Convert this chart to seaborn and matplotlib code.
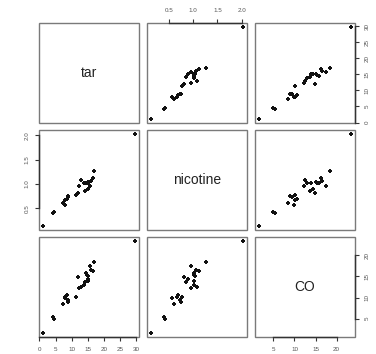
import matplotlib
matplotlib.use("Agg")
import matplotlib.pyplot as plt
import seaborn as sns
import pandas as pd
from matplotlib.patches import Rectangle

sns.set_style("white")
plt.rcParams['font.family'] = ['Liberation Sans', 'DejaVu Sans']

tar = [14.1, 16.0, 29.8, 8.0, 4.1, 15.0, 8.8, 12.4, 16.6, 14.9, 13.7, 15.1, 7.8,
       11.4, 9.0, 1.0, 17.0, 12.8, 15.8, 4.5, 14.5, 7.3, 8.6, 15.2, 12.0]
nicotine = [0.86, 1.06, 2.03, 0.67, 0.40, 1.04, 0.76, 0.95, 1.12, 1.02, 1.01, 0.90, 0.57,
            0.78, 0.74, 0.13, 1.26, 1.08, 0.96, 0.42, 1.01, 0.61, 0.69, 1.02, 0.82]
co = [13.6, 16.6, 23.5, 10.2, 5.4, 15.0, 9.0, 12.3, 16.3, 15.4, 13.0, 14.4, 10.0,
      10.2, 9.5, 1.5, 18.5, 12.6, 17.5, 4.9, 15.9, 8.5, 10.6, 13.9, 14.9]

names = ["tar", "nicotine", "CO"]
ticks = {"tar": [0, 5, 10, 15, 20, 25, 30],
         "nicotine": [0.5, 1.0, 1.5, 2.0],
         "CO": [5, 10, 15, 20]}
df = pd.DataFrame({"tar": tar, "nicotine": nicotine, "CO": co})

W, H = 376, 354
fig = plt.figure(figsize=(W / 100, H / 100), dpi=100)
lefts = [39, 147, 255]
tops = [23, 130, 237]
size = 100

def lims(v):
    lo, hi = min(v), max(v)
    p = (hi - lo) * 0.04
    return lo - p, hi + p

frame_col = "#7a7a7a"
axis_col = "#333333"
lab_col = "#555555"

for i, yv in enumerate(names):
    for j, xv in enumerate(names):
        ax = fig.add_axes([lefts[j] / W, (H - tops[i] - size) / H, size / W, size / H])
        ax.set_xlim(*lims(df[xv]))
        ax.set_ylim(*lims(df[yv]))
        for s in ax.spines.values():
            s.set_visible(False)
        ax.add_patch(Rectangle((0, 0), 1, 1, transform=ax.transAxes, fill=False,
                               edgecolor=frame_col, lw=1.0, clip_on=False, zorder=3))
        ax.set_xticks([])
        ax.set_yticks([])
        if i == j:
            ax.text(0.5, 0.5, xv, transform=ax.transAxes, ha="center", va="center",
                    fontsize=10, color="#222222")
        else:
            sns.scatterplot(data=df, x=xv, y=yv, ax=ax, marker="P", s=9,
                            color="#111111", linewidth=0, legend=False)
        ax.set_xlabel("")
        ax.set_ylabel("")
        # outer axes like R pairs
        side_x = None
        if i == 0 and j == 1:
            side_x = "top"
        if i == 2 and j in (0, 2):
            side_x = "bottom"
        side_y = None
        if j == 2 and i in (0, 2):
            side_y = "right"
        if j == 0 and i == 1:
            side_y = "left"
        if side_x:
            t = ticks[xv]
            ax.set_xticks(t)
            ax.set_xticklabels([f"{v:g}" if xv != "nicotine" else f"{v:.1f}" for v in t])
            ax.xaxis.set_ticks_position(side_x)
            ax.xaxis.set_label_position(side_x)
            ax.tick_params(axis="x", length=3, width=0.8, color=axis_col,
                           labelsize=4.5, labelcolor=lab_col, pad=4, direction="out")
            sp = ax.spines[side_x]
            sp.set_visible(True)
            sp.set_bounds(t[0], t[-1])
            sp.set_color(axis_col)
            sp.set_linewidth(1.0)
            sp.set_zorder(4)
        if side_y:
            t = ticks[yv]
            ax.set_yticks(t)
            ax.set_yticklabels([f"{v:g}" if yv != "nicotine" else f"{v:.1f}" for v in t],
                               rotation=90, va="center")
            ax.yaxis.set_ticks_position(side_y)
            ax.tick_params(axis="y", length=3, width=0.8, color=axis_col,
                           labelsize=4.5, labelcolor=lab_col, pad=4, direction="out")
            sp = ax.spines[side_y]
            sp.set_visible(True)
            sp.set_bounds(t[0], t[-1])
            sp.set_color(axis_col)
            sp.set_linewidth(1.0)
            sp.set_zorder(4)

fig.savefig("out.png", dpi=100, facecolor="white")
